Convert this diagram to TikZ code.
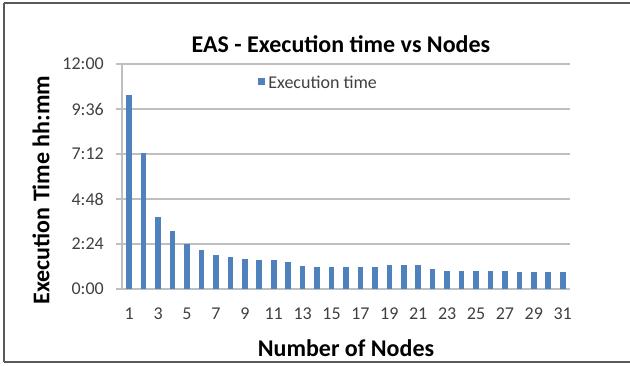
\documentclass[tikz,border=0pt]{standalone}
\usepackage{fontspec}
\setmainfont{Carlito}
\usepackage{tikz}
\usetikzlibrary{positioning}
\definecolor{barblue}{HTML}{4F81BD}
\definecolor{gridgray}{HTML}{BFBFBF}
\definecolor{framegray}{HTML}{595959}
\definecolor{labelgray}{HTML}{404040}

\begin{document}
\begin{tikzpicture}[
    x=1pt, y=-1pt,
    ticklabel/.style={font=\fontsize{18}{18}\selectfont, text=labelgray, inner sep=1pt},
    axistitle/.style={font=\fontsize{24}{24}\selectfont\bfseries, text=black, inner sep=0pt},
    gridline/.style={draw=gridgray, line width=2pt},
    bar/.style={fill=barblue, draw=none}
]
\useasboundingbox (0,0) rectangle (630,366);

\draw[framegray, line width=2.5pt] (4,3) -- (630,3);
\draw[framegray, line width=1.5pt] (4,3) -- (4,362);
\draw[framegray, line width=2.5pt] (4,362) -- (630,362);

\foreach \k in {0,...,5}
    \draw[gridline] (116,{289-45*\k}) -- (570,{289-45*\k});
\draw[gridline] (122,289) -- (122,64);

\foreach \k/\lab in {0/0:00, 1/2:24, 2/4:48, 3/7:12, 4/9:36, 5/12:00}
    \node[ticklabel, anchor=east] (yl\k) at (105,{289-45*\k}) {\lab};

\foreach \v [count=\i] in {10.33,7.27,3.82,3.08,2.41,2.10,1.82,1.73,1.62,1.53,1.53,1.44,1.25,1.15,1.15,1.15,1.15,1.15,1.26,1.26,1.26,1.08,0.98,0.98,0.98,0.98,0.98,0.89,0.89,0.89,0.89}
    \fill[bar] ({122+(\i-0.5)*14.45-2.8},289) rectangle ++(5.6,{-\v*18.75});

\foreach \i in {1,3,...,31}
    \node[ticklabel, anchor=base] (xl\i) at ({122+(\i-0.5)*14.45},320) {\i};

\node[axistitle, anchor=base] (title) at (341,53) {EAS - Execution time vs Nodes};
\node[axistitle, anchor=base] (xtitle) at (346,357) {Number of Nodes};
\node[axistitle, rotate=90] (ytitle) at (41,190) {Execution Time hh:mm};

\node[fill=barblue, minimum size=7pt, inner sep=0pt] (legkey) at (261.5,82) {};
\node[ticklabel, right=2pt of legkey] (legtext) {Execution time};
\end{tikzpicture}
\end{document}
